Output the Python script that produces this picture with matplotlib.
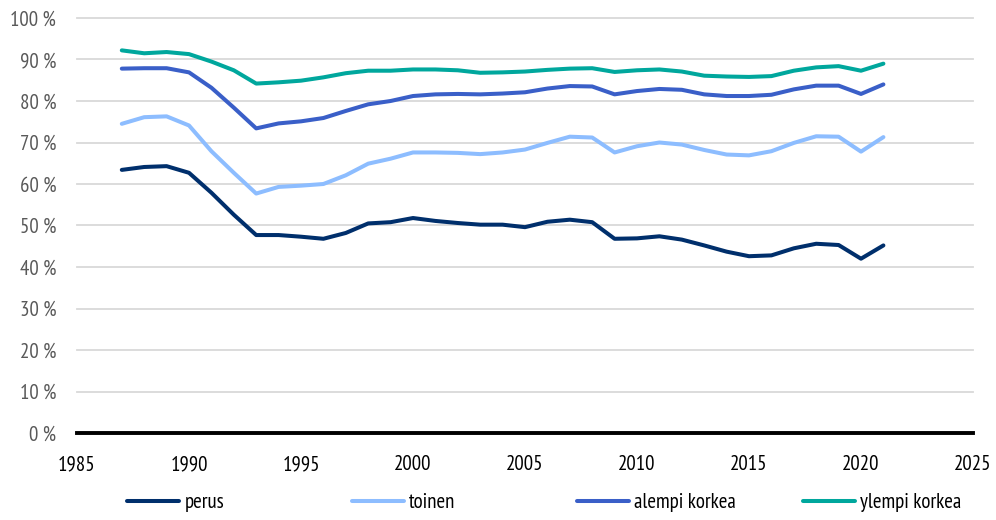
import matplotlib
matplotlib.use("Agg")
import matplotlib.pyplot as plt
from matplotlib.ticker import FuncFormatter

plt.rcParams["font.family"] = ["PT Sans Narrow", "Liberation Sans Narrow", "DejaVu Sans"]

years = list(range(1987, 2022))

perus = [63.4, 64.1, 64.3, 62.7, 57.9, 52.6, 47.7, 47.7, 47.3, 46.8, 48.2,
         50.5, 50.8, 51.8, 51.1, 50.6, 50.2, 50.2, 49.6, 50.9, 51.4, 50.8,
         46.8, 46.9, 47.4, 46.6, 45.2, 43.7, 42.6, 42.8, 44.5, 45.6, 45.3,
         42.0, 45.2]
toinen = [74.5, 76.1, 76.3, 74.1, 67.9, 62.7, 57.7, 59.3, 59.6, 60.0, 62.1,
          64.9, 66.1, 67.6, 67.6, 67.5, 67.2, 67.6, 68.3, 69.9, 71.4, 71.2,
          67.6, 69.1, 70.0, 69.5, 68.2, 67.1, 66.9, 67.9, 69.9, 71.5, 71.4,
          67.8, 71.3]
alempi_korkea = [87.8, 87.9, 87.9, 86.9, 83.2, 78.4, 73.4, 74.6, 75.1, 75.9, 77.6,
                 79.2, 80.0, 81.2, 81.6, 81.7, 81.6, 81.8, 82.1, 83.0, 83.6, 83.5,
                 81.6, 82.4, 82.9, 82.7, 81.6, 81.2, 81.2, 81.5, 82.8, 83.7, 83.7,
                 81.7, 84.0]
ylempi_korkea = [92.2, 91.5, 91.8, 91.3, 89.5, 87.4, 84.2, 84.5, 84.9, 85.7, 86.7,
                 87.3, 87.3, 87.6, 87.6, 87.4, 86.8, 86.9, 87.1, 87.5, 87.8, 87.9,
                 87.0, 87.4, 87.6, 87.1, 86.1, 85.9, 85.8, 86.0, 87.3, 88.1, 88.4,
                 87.3, 89.0]

series = [
    ("perus", perus, "#002F6C"),
    ("toinen", toinen, "#8DBDFF"),
    ("alempi korkea", alempi_korkea, "#3A5FC8"),
    ("ylempi korkea", ylempi_korkea, "#00A79D"),
]
legend_x = [127, 352, 577, 803]

fig = plt.figure(figsize=(9.96, 5.2), dpi=100)
ax = fig.add_axes([77 / 996, 1 - 433 / 520, 896 / 996, 415 / 520])

handles = []
for name, values, color in series:
    (line,) = ax.plot(years, values, color=color, lw=2.9, label=name,
                      solid_joinstyle="round", solid_capstyle="round", zorder=3)
    handles.append(line)

ax.set_xlim(1985, 2025)
ax.set_ylim(0, 100)
ax.set_xticks(range(1985, 2026, 5))
ax.set_yticks(range(0, 101, 10))
ax.yaxis.set_major_formatter(FuncFormatter(lambda v, _: f"{int(v)} %"))

for v in range(10, 101, 10):
    ax.axhline(v, color="#d9d9d9", lw=1.3, zorder=1, clip_on=False)
ax.axhline(0, color="black", lw=2.8, zorder=4, clip_on=False)

for side in ["top", "right", "left", "bottom"]:
    ax.spines[side].set_visible(False)

ax.tick_params(axis="x", length=0, pad=16, labelsize=15, labelcolor="black")
ax.tick_params(axis="y", length=0, pad=15, labelsize=15, labelcolor="#595959")

for h, x in zip(handles, legend_x):
    fig.legend([h], [h.get_label()], loc="center left",
               bbox_to_anchor=(x / 996, 1 - 503 / 520), frameon=False,
               fontsize=15, handlelength=2.5, handletextpad=0.25,
               borderpad=0, borderaxespad=0)

fig.savefig("out.png", dpi=100)
